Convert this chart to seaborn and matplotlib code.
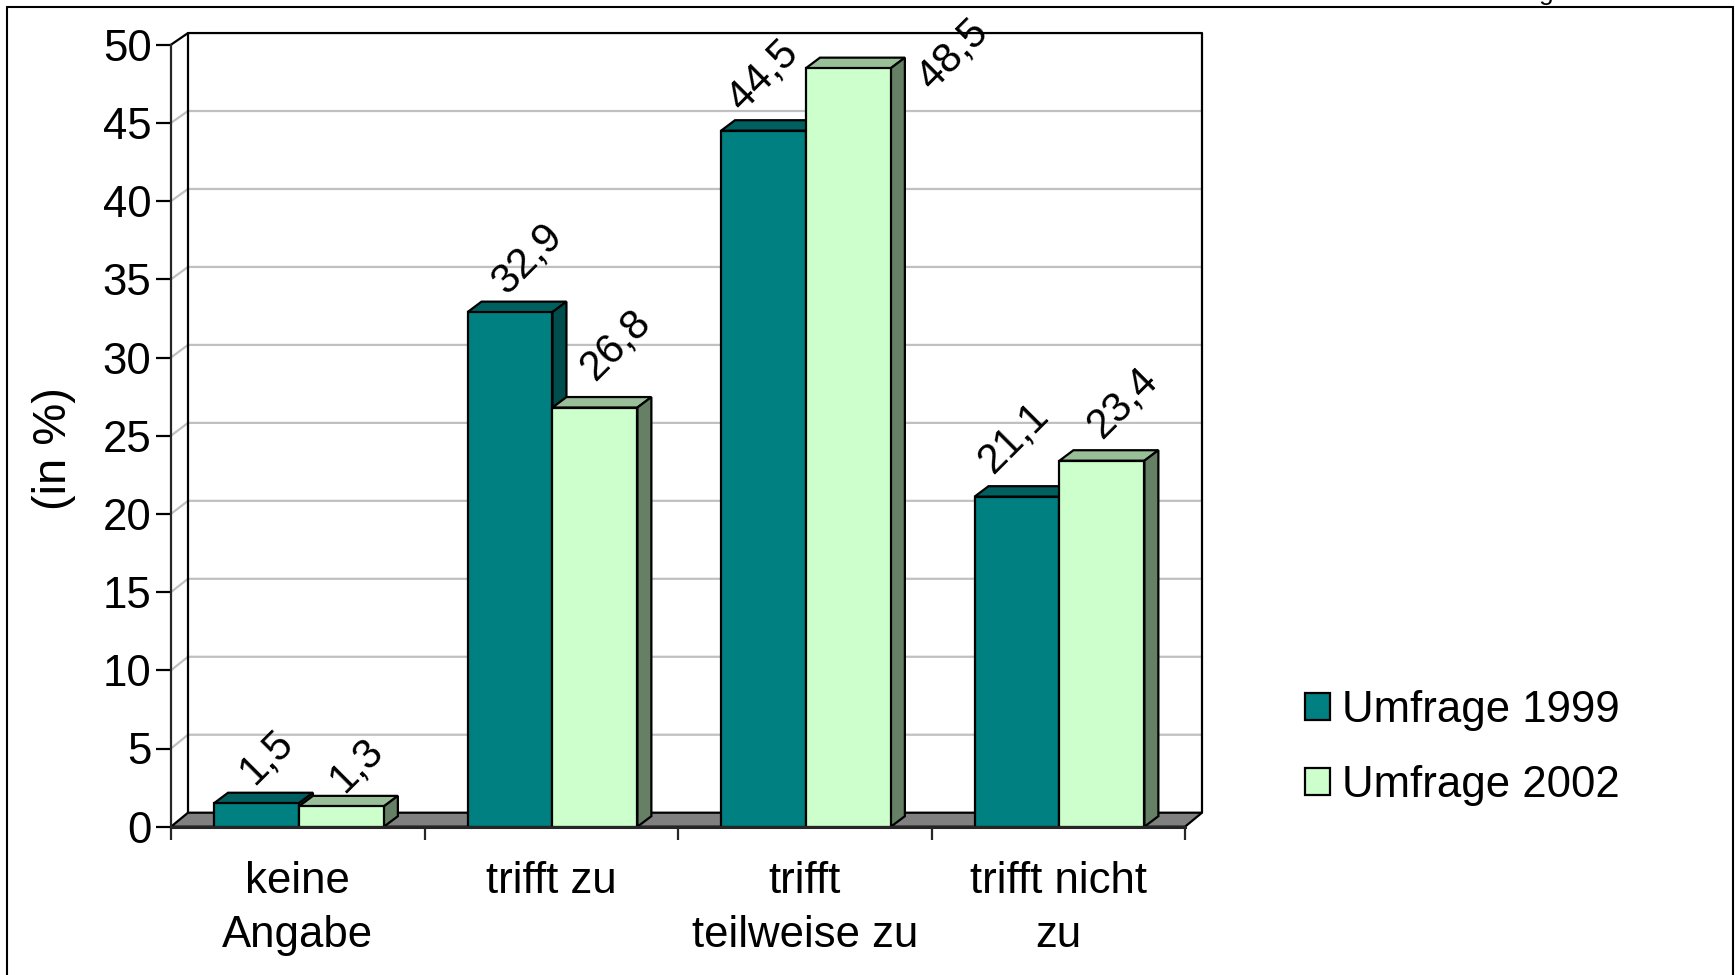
import matplotlib
matplotlib.use('Agg')
import matplotlib.pyplot as plt
from matplotlib.lines import Line2D
from matplotlib.patches import Polygon
import pandas as pd
import seaborn as sns

categories = ['keine\nAngabe', 'trifft zu', 'trifft\nteilweise zu', 'trifft nicht\nzu']
umfrage_1999 = [1.5, 32.9, 44.5, 21.1]
umfrage_2002 = [1.3, 26.8, 48.5, 23.4]
series_names = ['Umfrage 1999', 'Umfrage 2002']
y_ticks = list(range(0, 55, 5))

# label positions, offset in px from the middle of the bar top
offsets_1999 = [(10, 46), (18, 54), (0, 55), (-3, 59)]
offsets_2002 = [(15, 41), (21, 63), (105, 14), (21, 58)]

front_colors = ['#008080', '#CCFFCC']
top_colors = ['#006060', '#99BF99']
side_colors = ['#004D4D', '#668066']

W, H = 1735, 975
sns.set_style('white')
plt.rcParams['font.family'] = ['Liberation Sans', 'DejaVu Sans']
plt.rcParams['text.color'] = 'black'
FS = 31.5
LW = 1.6

df = pd.DataFrame({
    'kategorie': categories * 2,
    'anteil': umfrage_1999 + umfrage_2002,
    'umfrage': [series_names[0]] * 4 + [series_names[1]] * 4,
})

fig = plt.figure(figsize=(W / 100, H / 100), dpi=100)
ax = fig.add_axes([171 / W, 1 - 826.7 / H, (1185 - 171) / W, (826.7 - 44.7) / H])
sns.barplot(data=df, x='kategorie', y='anteil', hue='umfrage', palette=front_colors,
            saturation=1, width=0.67, gap=0, edgecolor='black', linewidth=LW, ax=ax)
ax.set_xlim(-0.5, 3.5)
ax.set_ylim(0, 50)

px_x = 4 / (1185 - 171)
px_y = 50 / (826.7 - 44.7)


def back(v):
    # wall position for a value on the front axis
    return 0.997 * v + 14 * px_y


wall_dx = 17 * px_x
xl, xr = -0.5, 3.5

#Floor and wall
ax.add_patch(Polygon([(xl, 0), (xr, 0), (xr + wall_dx, back(0)), (xl + wall_dx, back(0))],
                     closed=True, fc='#808080', ec='black', lw=LW, clip_on=False, zorder=1))
for v in y_ticks[1:-1]:
    ax.plot([xl, xl + wall_dx, xr + wall_dx], [v, back(v), back(v)], color='#C0C0C0',
            lw=LW, clip_on=False, zorder=0.5)
ax.plot([xl, xl + wall_dx, xr + wall_dx, xr + wall_dx], [50, back(50), back(50), back(0)],
        color='black', lw=LW, clip_on=False, zorder=0.6)
ax.plot([xl + wall_dx, xl + wall_dx], [back(0), back(50)], color='black', lw=LW,
        clip_on=False, zorder=0.6)

#3D bars
bar_dx = 14 * px_x
bar_dy = 10.5 * px_y
for s, container in enumerate(ax.containers):
    for i, bar in enumerate(container):
        bar.set_x(bar.get_x() + 1.2 * px_x)
        x0, x1 = bar.get_x(), bar.get_x() + bar.get_width()
        h = bar.get_height()
        z = 2 + i + s * 0.3
        ax.add_patch(Polygon([(x0, h), (x1, h), (x1 + bar_dx, h + bar_dy), (x0 + bar_dx, h + bar_dy)],
                             closed=True, fc=top_colors[s], ec='black', lw=LW, clip_on=False, zorder=z))
        ax.add_patch(Polygon([(x1, 0), (x1, h), (x1 + bar_dx, h + bar_dy), (x1 + bar_dx, bar_dy)],
                             closed=True, fc=side_colors[s], ec='black', lw=LW, clip_on=False, zorder=z))
        bar.set_zorder(z + 0.1)
        bar.set_clip_on(False)

#Value labels
for s, (values, offsets) in enumerate([(umfrage_1999, offsets_1999), (umfrage_2002, offsets_2002)]):
    for bar, v, off in zip(ax.containers[s], values, offsets):
        ax.annotate(str(v).replace('.', ','), (bar.get_x() + bar.get_width() / 2, v),
                    xytext=(off[0] * 0.72, off[1] * 0.72), textcoords='offset points',
                    rotation=45, rotation_mode='anchor', ha='center', va='center',
                    fontsize=30, color='black', zorder=20, annotation_clip=False)

#Axes
sns.despine(ax=ax, top=True, right=True)
ax.spines['left'].set_linewidth(LW)
ax.spines['bottom'].set_linewidth(2.2)
ax.spines['bottom'].set_zorder(15)
ax.set_yticks(y_ticks)
ax.tick_params(axis='y', which='major', left=True, length=11, width=LW, pad=3,
               labelsize=FS, colors='black')
ax.set_xticks([-0.5, 0.5, 1.5, 2.5, 3.5], minor=True)
ax.tick_params(axis='x', which='minor', bottom=True, length=9, width=LW)
ax.tick_params(axis='x', which='major', bottom=False, length=0, pad=24.5, labelsize=FS, colors='black')
for lab in ax.get_xticklabels():
    lab.set_linespacing(1.41)
ax.set_xlabel('')
ax.set_ylabel('')
fig.text(54 / W, 1 - 449 / H, '(in %)', rotation=90, ha='center', va='center', fontsize=34, color='black')

#Legend
sns.move_legend(ax, 'lower left', bbox_to_anchor=(1305 / W, 1 - 806 / H), bbox_transform=fig.transFigure,
                title=None, frameon=False, fontsize=FS, handlelength=0.57, handleheight=0.57,
                handletextpad=0.28, labelspacing=0.77, borderpad=0, borderaxespad=0,
                labelcolor='black')

#Outer frame
for xs, ys in [([7, 7], [H, 7]), ([7, 1733], [7, 7]), ([1733, 1733], [7, H])]:
    fig.add_artist(Line2D([x / W for x in xs], [1 - y / H for y in ys], color='black', lw=1.5))
# tail of a letter cut off at the top edge, same as in the source picture
fig.text(1546 / W, 1 + 0.5 / H, 'g', ha='center', va='baseline', fontsize=19, color='black')

fig.savefig('out.png', dpi=100)
